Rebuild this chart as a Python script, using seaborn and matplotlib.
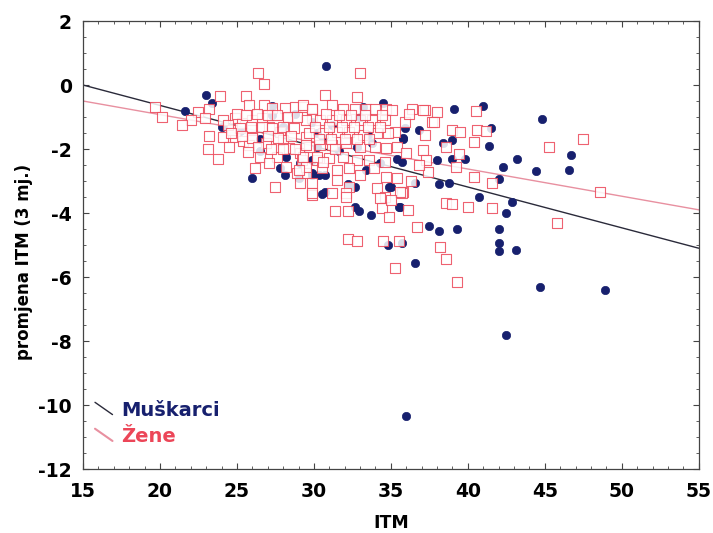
import matplotlib
matplotlib.use("Agg")
import matplotlib.pyplot as plt
import seaborn as sns
import pandas as pd
from matplotlib.lines import Line2D
from matplotlib.legend_handler import HandlerBase
from matplotlib.ticker import MultipleLocator

# Muškarci (men) points: ITM, change of ITM
men_x = [30.8, 23.0, 21.6, 23.4, 24.0, 27.3, 27.3, 28.8, 28.0, 26.5, 26.5, 28.2, 29.1, 28.1, 29.0,
         29.9, 30.2, 30.2, 29.9, 34.5, 33.2, 33.5, 33.8, 35.8, 36.8, 35.9, 35.8, 38.4, 39.0, 39.1,
         41.0, 44.8, 41.5, 41.4, 35.4, 34.3, 35.7, 38.0, 39.0, 39.8, 43.2, 46.7, 42.3, 44.4, 46.6,
         42.0, 36.6, 38.1, 38.8, 35.0, 34.9, 40.7, 42.9, 35.6, 42.5, 37.5, 38.1, 39.3, 42.0, 42.0,
         42.0, 43.1, 34.8, 35.7, 36.6, 44.7, 48.9, 42.5, 36.0, 33.4, 31.6, 32.8, 29.9, 29.9, 30.7,
         30.3, 32.2, 32.7, 30.7, 32.7, 30.6, 30.5, 32.9, 33.7, 35.5, 25.2, 27.8, 31.2, 33.0, 26.0]
men_y = [0.6, -0.3, -0.8, -0.55, -1.3, -0.65, -0.95, -0.9, -1.3, -1.7, -2.05, -2.25, -2.45, -2.8, -2.9,
         -2.8, -1.95, -1.5, -1.15, -0.55, -0.7, -1.55, -1.8, -1.65, -1.4, -1.35, -1.7, -1.8, -1.72, -0.75,
         -0.65, -1.05, -1.35, -1.9, -2.3, -2.45, -2.4, -2.35, -2.3, -2.3, -2.3, -2.2, -2.55, -2.7, -2.65,
         -2.95, -3.05, -3.1, -3.05, -3.2, -3.2, -3.5, -3.65, -3.8, -4.0, -4.4, -4.55, -4.5, -4.5, -4.95,
         -5.2, -5.15, -5.0, -4.95, -5.55, -6.3, -6.4, -7.8, -10.35, -2.65, -2.05, -1.95, -2.35, -2.75, -2.8,
         -2.8, -3.1, -3.2, -3.35, -3.8, -1.65, -3.4, -3.95, -4.05, -3.8, -1.45, -2.6, -1.25, -1.0, -2.9]

# Žene (women) points
women_x = [19.7, 20.1, 26.4, 26.75, 23.9, 25.6, 25.8, 26.75, 23.2, 22.5, 22.9, 24.1, 24.9, 25.3, 26.0,
           26.6, 27.3, 28.1, 28.8, 29.3, 29.9, 23.2, 24.1, 24.9, 25.4, 25.8, 23.1, 23.8, 26.2, 27.5,
           29.1, 29.9, 27.1, 27.8, 28.0, 28.4, 29.1, 29.2, 28.2, 27.6, 26.5, 26.9, 26.0, 24.7, 24.4,
           29.5, 29.9, 29.7, 30.2, 29.5, 28.9, 33.0, 30.7, 32.8, 29.3, 29.9, 31.2, 31.9, 32.7, 33.4,
           34.0, 34.7, 35.1, 36.4, 37.2, 38.0, 37.7, 35.9, 35.3, 29.5, 30.4, 31.2, 32.1, 33.0, 33.8,
           34.6, 29.7, 30.6, 31.5, 32.3, 33.2, 34.1, 34.8, 37.2, 38.6, 29.5, 30.4, 31.2, 32.1, 33.0,
           34.0, 34.7, 35.4, 37.1, 36.0, 29.3, 30.2, 31.0, 31.9, 32.8, 33.6, 34.6, 37.3, 29.5, 30.5,
           31.5, 32.3, 33.0, 34.7, 35.4, 29.9, 31.5, 32.3, 34.1, 35.8, 29.9, 31.2, 32.1, 34.6, 38.6,
           31.4, 32.2, 32.1, 34.4, 34.9, 34.3, 35.7, 36.7, 32.2, 32.8, 34.5, 35.5, 35.3, 38.2, 38.6,
           39.3, 39.0, 40.0, 41.6, 40.5, 37.1, 37.8, 39.0, 39.5, 40.6, 41.2, 40.4, 39.4, 39.2, 37.4,
           40.4, 41.6, 45.3, 47.5, 45.8, 48.6, 35.6, 34.4, 36.2, 25.0, 25.6, 26.3, 27.0, 27.6, 28.3,
           28.9, 25.2, 25.9, 26.6, 27.3, 28.0, 28.7, 24.6, 25.3, 26.0, 27.0, 27.7, 28.5, 30.8, 31.6,
           32.4, 33.3, 30.1, 31.0, 31.8, 32.6, 33.5, 34.3, 30.3, 31.1, 32.0, 32.8, 33.6, 27.2, 28.0,
           28.8, 26.4, 27.1, 25.7, 24.5, 31.4, 30.6, 29.0, 22.0, 21.4, 36.8, 33.9, 36.3, 35.0, 36.1]
women_y = [-0.7, -1.0, 0.37, 0.03, -0.34, -0.34, -0.63, -0.63, -0.75, -0.84, -1.03, -1.09, -1.03, -1.19, -1.09,
           -1.03, -0.72, -0.72, -0.69, -0.69, -0.75, -1.59, -1.63, -1.63, -1.75, -1.88, -2.0, -2.31, -2.59, -3.19,
           -3.06, -3.44, -1.31, -1.47, -1.72, -1.97, -2.13, -2.34, -2.56, -2.25, -2.25, -1.81, -1.41, -1.41, -1.25,
           -1.63, -1.03, -1.94, -2.34, -2.75, -2.75, 0.37, -0.31, -0.38, -0.63, -0.75, -0.63, -0.75, -0.75, -0.75,
           -0.75, -0.75, -0.78, -0.75, -0.78, -0.84, -1.16, -1.16, -1.47, -1.09, -1.09, -1.09, -1.09, -1.09, -1.09,
           -1.09, -1.5, -1.5, -1.47, -1.47, -1.56, -1.5, -1.5, -1.56, -1.94, -1.88, -1.88, -1.88, -1.81, -1.94,
           -1.94, -1.97, -1.94, -2.03, -2.13, -2.25, -2.25, -2.28, -2.25, -2.34, -2.34, -2.41, -2.34, -2.56, -2.59,
           -2.66, -2.59, -2.81, -2.88, -2.91, -3.06, -2.97, -3.19, -3.22, -3.34, -3.38, -3.38, -3.38, -3.5, -3.69,
           -3.94, -3.94, -3.5, -3.84, -4.13, -3.53, -3.38, -4.44, -4.8, -4.88, -4.88, -4.88, -5.72, -5.06, -5.44,
           -6.16, -3.72, -3.8, -3.84, -0.81, -0.78, -1.16, -1.41, -1.47, -1.41, -1.44, -1.78, -2.16, -2.56, -2.72,
           -2.88, -3.06, -1.94, -1.69, -4.31, -3.34, -3.34, -0.95, -0.9, -0.9, -0.95, -0.9, -0.95, -0.95, -1.0,
           -1.0, -1.35, -1.3, -1.3, -1.35, -1.3, -1.35, -1.5, -1.6, -1.65, -1.6, -1.65, -1.6, -0.9, -0.95,
           -0.95, -0.95, -1.3, -1.3, -1.3, -1.3, -1.3, -1.3, -1.7, -1.7, -1.7, -1.7, -1.7, -2.0, -2.0,
           -2.0, -1.95, -2.45, -2.1, -1.95, -2.0, -2.4, -2.65, -1.1, -1.25, -2.5, -2.6, -3.0, -3.6, -3.9]

# regression lines, read at x = 15 and x = 55
line_x = [15, 55]
men_line_y = [0.0, -5.1]
women_line_y = [-0.5, -3.9]

x_ticks = [15, 20, 25, 30, 35, 40, 45, 50, 55]
y_ticks = [2, 0, -2, -4, -6, -8, -10, -12]

MEN_C = "#17206e"
WOMEN_C = "#ec4658"
MEN_LINE = "#2a2a3a"
WOMEN_LINE = "#e890a0"

sns.set_style("ticks")
plt.rcParams["font.family"] = ["DejaVu Sans"]
plt.rcParams["axes.unicode_minus"] = False
plt.rcParams["text.color"] = "black"
plt.rcParams["axes.labelcolor"] = "black"
plt.rcParams["xtick.labelcolor"] = "black"
plt.rcParams["ytick.labelcolor"] = "black"


class DiagHandler(HandlerBase):
    def create_artists(self, legend, orig_handle, xdescent, ydescent, width, height, fontsize, trans):
        ln = Line2D([0, width], [height * 1.0, height * 0.1],
                    color=orig_handle.get_color(), lw=orig_handle.get_linewidth(), transform=trans)
        return [ln]


fig = plt.figure(figsize=(7.13, 5.33), dpi=100)
ax = fig.add_axes([0.1164, 0.12, 0.8636, 0.8406])

men = pd.DataFrame({"x": men_x, "y": men_y})
women = pd.DataFrame({"x": women_x, "y": women_y})
lines = pd.DataFrame({"x": line_x + line_x,
                      "y": men_line_y + women_line_y,
                      "g": ["m", "m", "w", "w"]})

sns.lineplot(data=lines[lines.g == "w"], x="x", y="y", color=WOMEN_LINE, lw=1.0, ax=ax, zorder=1)
sns.lineplot(data=lines[lines.g == "m"], x="x", y="y", color=MEN_LINE, lw=1.0, ax=ax, zorder=1)
sns.scatterplot(data=men, x="x", y="y", color=MEN_C, marker="o", s=36, edgecolor=MEN_C,
                linewidth=0.5, ax=ax, zorder=2)
sns.scatterplot(data=women, x="x", y="y", marker="s", s=46, facecolor="white",
                edgecolor=WOMEN_C, linewidth=0.8, alpha=0.85, ax=ax, zorder=3)

ax.set_xlim(15, 55)
ax.set_ylim(-12, 2)
ax.set_xticks(x_ticks)
ax.set_yticks(y_ticks)
ax.xaxis.set_minor_locator(MultipleLocator(1))
ax.yaxis.set_minor_locator(MultipleLocator(0.5))
ax.tick_params(which="both", direction="in", top=True, right=True, color="#444444")
ax.tick_params(which="major", length=4, width=0.8, labelsize=13.5, labelcolor="black")
ax.tick_params(axis="x", which="major", pad=9)
ax.tick_params(axis="y", which="major", pad=8)
ax.tick_params(which="minor", length=2, width=0.6)
for lab in ax.get_xticklabels() + ax.get_yticklabels():
    lab.set_fontweight("bold")
for sp in ax.spines.values():
    sp.set_visible(True)
    sp.set_linewidth(0.9)
    sp.set_color("#444444")

ax.set_xlabel("ITM", fontsize=12.5, fontweight="bold", labelpad=10, color="black")
ax.set_ylabel("promjena ITM (3 mj.)", fontsize=12, fontweight="bold", color="black")
ax.yaxis.set_label_coords(-0.081, 0.462)

handles = [Line2D([0], [0], color=MEN_LINE, lw=1.0),
           Line2D([0], [0], color=WOMEN_LINE, lw=1.5)]
leg = ax.legend(handles, ["Muškarci", "Žene"], loc="upper left", bbox_to_anchor=(0.0195, 0.152),
                frameon=False, borderpad=0, borderaxespad=0,
                handlelength=0.9, handletextpad=0.45, labelspacing=0.38,
                handler_map={Line2D: DiagHandler()},
                prop={"weight": "bold", "size": 14})
leg.get_texts()[0].set_color(MEN_C)
leg.get_texts()[1].set_color(WOMEN_C)

fig.savefig("out.png", dpi=100)
